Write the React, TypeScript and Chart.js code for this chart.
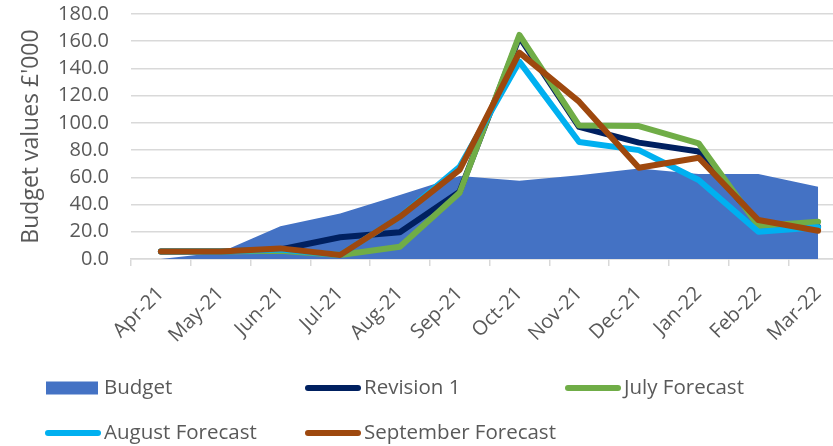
import { useEffect, useRef } from 'react';
import { Chart, registerables } from 'chart.js';

Chart.register(...registerables);

const categories = ['Apr-21', 'May-21', 'Jun-21', 'Jul-21', 'Aug-21', 'Sep-21', 'Oct-21', 'Nov-21', 'Dec-21', 'Jan-22', 'Feb-22', 'Mar-22'];
const budget = [0, 5, 24, 33.5, 47, 61, 57.5, 61.5, 66.5, 62.5, 62.5, 53];
const revision1 = [5.5, 5.5, 7, 16, 19.6, 49.5, 163, 97, 85.5, 79, 26.5, 23.7];
const julyForecast = [5.5, 5.5, 6, 3, 9, 48.7, 164.6, 98, 97.7, 85, 24.2, 27.4];
const augustForecast = [5.5, 5.5, 7, 3, 31, 67.8, 145, 86, 80, 58, 20, 23.3];
const septemberForecast = [5.5, 5.5, 7.8, 3, 31, 65.4, 151.6, 115.6, 67, 74.4, 28.6, 20.8];
const yMin = 0;
const yMax = 180;
const yStep = 20;

const FONT = '"Open Sans", sans-serif';
const TEXT = '#595959';
const GRID = '#d9d9d9';

const legendPlugin = {
  id: 'gridLegend',
  afterDraw(chart: any) {
    const ctx = chart.ctx;
    const colX = [45, 305, 565];
    const rowCenter = [388, 433];
    ctx.save();
    ctx.font = `20.5px ${FONT}`;
    ctx.fillStyle = TEXT;
    ctx.textBaseline = 'middle';
    ctx.textAlign = 'left';
    chart.data.datasets.forEach((ds: any, i: number) => {
      const col = i % 3;
      const row = Math.floor(i / 3);
      const x = colX[col];
      const y = rowCenter[row];
      if (ds.fill) {
        ctx.fillStyle = ds.backgroundColor;
        ctx.fillRect(x + 1, y - 6.5, 52, 13);
      } else {
        ctx.strokeStyle = ds.borderColor;
        ctx.lineWidth = 6;
        ctx.lineCap = 'round';
        ctx.beginPath();
        ctx.moveTo(x + 3, y);
        ctx.lineTo(x + 53, y);
        ctx.stroke();
      }
      ctx.fillStyle = TEXT;
      ctx.fillText(ds.label, x + 59, y);
    });
    ctx.restore();
  },
};

const lineDs = (label: string, data: number[], color: string, order: number) => ({
  type: 'line' as const,
  label,
  data,
  borderColor: color,
  backgroundColor: color,
  borderWidth: 6,
  borderCapStyle: 'round' as const,
  borderJoinStyle: 'round' as const,
  pointRadius: 0,
  tension: 0,
  fill: false,
  order,
});

export default function App() {
  const ref = useRef<HTMLCanvasElement | null>(null);

  useEffect(() => {
    document.documentElement.style.overflow = 'hidden';
    document.body.style.overflow = 'hidden';
    const canvas = ref.current;
    if (!canvas) return;
    const chart = new Chart(canvas, {
      type: 'line',
      data: {
        labels: categories,
        datasets: [
          {
            label: 'Budget',
            data: budget,
            borderColor: '#4472C4',
            backgroundColor: '#4472C4',
            borderWidth: 0,
            pointRadius: 0,
            tension: 0,
            fill: 'origin',
            order: 5,
          },
          lineDs('Revision 1', revision1, '#002060', 4),
          lineDs('July Forecast', julyForecast, '#70AD47', 3),
          lineDs('August Forecast', augustForecast, '#00B0F0', 2),
          lineDs('September Forecast', septemberForecast, '#9E480E', 1),
        ] as any,
      },
      options: {
        animation: false,
        responsive: false,
        devicePixelRatio: 1,
        layout: { padding: { top: 14, right: 12, left: 0, bottom: 0 } },
        plugins: {
          legend: { display: false },
          tooltip: { enabled: false },
        },
        scales: {
          x: {
            type: 'category',
            offset: true,
            grid: {
              display: true,
              drawOnChartArea: false,
              drawTicks: true,
              tickLength: 7,
              color: GRID,
              lineWidth: 1.5,
              offset: true,
            },
            border: { display: true, color: GRID, width: 1.5 },
            ticks: {
              autoSkip: false,
              minRotation: 45,
              maxRotation: 45,
              color: TEXT,
              font: { family: FONT, size: 20 },
              padding: 16,
            },
            afterFit: (s: any) => {
              s.height = 187;
              s.paddingLeft = 0;
              s.paddingRight = 0;
            },
          },
          y: {
            min: yMin,
            max: yMax,
            ticks: {
              stepSize: yStep,
              autoSkip: false,
              color: TEXT,
              font: { family: FONT, size: 20 },
              padding: 22,
              callback: (v: any) => Number(v).toFixed(1),
            },
            grid: { color: GRID, lineWidth: 1.5, drawTicks: false },
            border: { display: false },
            title: {
              display: true,
              text: "Budget values £'000",
              color: TEXT,
              font: { family: FONT, size: 23 },
              padding: { top: 18, bottom: 0 },
            },
            afterFit: (s: any) => {
              s.width = 131;
              s.paddingTop = 0;
              s.paddingBottom = 0;
            },
          },
        },
      },
      plugins: [legendPlugin],
    });
    return () => chart.destroy();
  }, []);

  return (
    <div style={{ position: 'fixed', left: 0, top: 0, width: 860, height: 446, background: '#fff' }}>
      <canvas ref={ref} width={860} height={446} style={{ width: 860, height: 446, display: 'block' }} />
    </div>
  );
}
